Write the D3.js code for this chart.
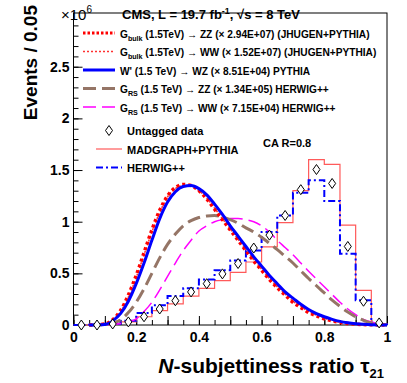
<!DOCTYPE html>
<html>
<head>
<meta charset="utf-8">
<script src="https://cdn.jsdelivr.net/npm/d3@7"></script>
<style>
  body { margin: 0; background: #fff; }
  text { font-family: "Liberation Sans", Arial, sans-serif; font-weight: bold; }
</style>
</head>
<body>
<div id="chart"></div>
<script>
// bin centres of the 0.05-wide histograms
var binCenters = [0.025, 0.075, 0.125, 0.175, 0.225, 0.275, 0.325, 0.375, 0.425, 0.475,
                  0.525, 0.575, 0.625, 0.675, 0.725, 0.775, 0.825, 0.875, 0.925, 0.975];
var dataValues = [0.0, 0.0, 0.01, 0.03, 0.08, 0.155, 0.235, 0.32, 0.40, 0.495,
                  0.595, 0.745, 0.87, 1.06, 1.31, 1.505, 1.37, 0.76, 0.23, 0.02];
var madgraphValues = [0.0, 0.002, 0.01, 0.03, 0.08, 0.14, 0.205, 0.28, 0.355, 0.43,
                      0.51, 0.61, 0.757, 0.99, 1.30, 1.60, 1.555, 0.967, 0.335, 0.01];
var herwigValues = [0.0, 0.002, 0.012, 0.04, 0.115, 0.19, 0.28, 0.355, 0.44, 0.53,
                    0.625, 0.72, 0.90, 1.06, 1.28, 1.40, 1.20, 0.69, 0.24, 0.005];

// signal shapes, read at these tau21 values
var curveX = [0.05, 0.1, 0.125, 0.15, 0.175, 0.2, 0.225, 0.25, 0.275, 0.3, 0.325, 0.35, 0.375,
              0.4, 0.425, 0.45, 0.475, 0.5, 0.525, 0.55, 0.575, 0.6, 0.625, 0.65, 0.675, 0.7,
              0.725, 0.75, 0.775, 0.8, 0.825, 0.85, 0.875, 0.9, 0.925, 0.95, 0.975, 1.0];
var gbulkZZ = [0, 0.01, 0.05, 0.14, 0.29, 0.48, 0.70, 0.92, 1.11, 1.25, 1.33, 1.36, 1.35,
               1.30, 1.22, 1.12, 1.02, 0.92, 0.82, 0.72, 0.62, 0.53, 0.44, 0.36, 0.29, 0.22,
               0.17, 0.12, 0.09, 0.06, 0.04, 0.025, 0.015, 0.008, 0.004, 0.002, 0.001, 0];
var gbulkWW = [0, 0.008, 0.045, 0.13, 0.27, 0.46, 0.68, 0.90, 1.09, 1.24, 1.32, 1.35, 1.345,
               1.30, 1.23, 1.13, 1.03, 0.93, 0.83, 0.73, 0.63, 0.54, 0.45, 0.37, 0.30, 0.23,
               0.18, 0.13, 0.095, 0.065, 0.043, 0.027, 0.016, 0.009, 0.005, 0.002, 0.001, 0];
var wprimeWZ = [0, 0.005, 0.04, 0.11, 0.23, 0.40, 0.60, 0.82, 1.03, 1.19, 1.29, 1.34, 1.35,
                1.32, 1.26, 1.17, 1.07, 0.96, 0.86, 0.76, 0.66, 0.57, 0.48, 0.40, 0.32, 0.26,
                0.20, 0.15, 0.11, 0.08, 0.055, 0.035, 0.022, 0.013, 0.007, 0.003, 0.001, 0];
var grsZZ = [0, 0.005, 0.02, 0.05, 0.12, 0.22, 0.35, 0.50, 0.65, 0.78, 0.88, 0.96, 1.01,
             1.04, 1.055, 1.06, 1.045, 1.02, 0.985, 0.94, 0.90, 0.85, 0.79, 0.73, 0.665, 0.60,
             0.525, 0.45, 0.38, 0.31, 0.24, 0.18, 0.125, 0.08, 0.045, 0.02, 0.006, 0];
var grsWW = [0, 0.0, 0.005, 0.015, 0.03, 0.06, 0.13, 0.22, 0.34, 0.47, 0.60, 0.72, 0.82,
             0.91, 0.96, 1.0, 1.02, 1.03, 1.03, 1.02, 1.0, 0.96, 0.90, 0.82, 0.75, 0.68,
             0.60, 0.52, 0.445, 0.37, 0.295, 0.22, 0.155, 0.10, 0.055, 0.03, 0.01, 0];

var xTickLabels = ["0", "0.2", "0.4", "0.6", "0.8", "1"];
var yTickLabels = ["0", "0.5", "1", "1.5", "2", "2.5"];

var width = 407, height = 383;
var svg = d3.select("#chart").append("svg")
  .attr("width", width)
  .attr("height", height);

var x = d3.scaleLinear().domain([0, 1]).range([73.5, 387]);
var y = d3.scaleLinear().domain([0, 3.02]).range([325, 13]);

// frame
svg.append("rect")
  .attr("x", x(0)).attr("y", y(3.02))
  .attr("width", x(1) - x(0)).attr("height", y(0) - y(3.02))
  .attr("fill", "none").attr("stroke", "#000").attr("stroke-width", 1);

// axes, ticks pointing inside like ROOT
var xMinor = d3.axisBottom(x).tickValues(d3.range(0, 1.0001, 0.05)).tickSize(-5).tickFormat("");
var xMajor = d3.axisBottom(x).tickValues(d3.range(0, 1.0001, 0.1)).tickSize(-9).tickFormat("");
var xLab = d3.axisBottom(x).tickValues(xTickLabels.map(Number)).tickSize(0).tickPadding(7)
  .tickFormat(function(d) { return d3.format("~g")(d); });
[xMinor, xMajor, xLab].forEach(function(ax) {
  svg.append("g").attr("transform", "translate(0," + y(0) + ")").call(ax);
});
var yMinor = d3.axisLeft(y).tickValues(d3.range(0, 2.95, 0.1)).tickSize(-5).tickFormat("");
var yMajor = d3.axisLeft(y).tickValues(yTickLabels.map(Number)).tickSize(-9).tickPadding(4)
  .tickFormat(function(d) { return d3.format("~g")(d); });
[yMinor, yMajor].forEach(function(ax) {
  svg.append("g").attr("transform", "translate(" + x(0) + ",0)").call(ax);
});
svg.selectAll(".domain").remove();
svg.selectAll(".tick line").attr("stroke", "#000");
svg.selectAll(".tick text").attr("font-size", 14).attr("fill", "#000");

// step histograms
function stepPath(values) {
  var pts = [[0, 0]];
  values.forEach(function(v, i) {
    pts.push([binCenters[i] - 0.025, v]);
    pts.push([binCenters[i] + 0.025, v]);
  });
  pts.push([1, 0]);
  return d3.line().x(function(d) { return x(d[0]); }).y(function(d) { return y(d[1]); })(pts);
}
svg.append("path").attr("d", stepPath(madgraphValues))
  .attr("fill", "none").attr("stroke", "#ff5a5a").attr("stroke-width", 1.2);
svg.append("path").attr("d", stepPath(herwigValues))
  .attr("fill", "none").attr("stroke", "#0000ff").attr("stroke-width", 2)
  .attr("stroke-dasharray", "7,3,2,3");

// signal curves
var curveLine = d3.line()
  .x(function(d, i) { return x(curveX[i]); })
  .y(function(d) { return y(d); })
  .curve(d3.curveMonotoneX);

var curves = [
  { values: grsWW, color: "#ff00ff", width: 1.5, dash: "13,6" },
  { values: grsZZ, color: "#957566", width: 3, dash: "13,6" },
  { values: gbulkWW, color: "#ff3030", width: 1.5, dash: "2,2" },
  { values: gbulkZZ, color: "#ff0000", width: 3.5, dash: "3,3" },
  { values: wprimeWZ, color: "#0000ff", width: 3, dash: null }
];
curves.forEach(function(c) {
  svg.append("path").attr("d", curveLine(c.values))
    .attr("fill", "none").attr("stroke", c.color).attr("stroke-width", c.width)
    .attr("stroke-dasharray", c.dash);
});

// data markers (open diamonds)
var diamond = "M0,-5L3.5,0L0,5L-3.5,0Z";
svg.selectAll(".pt").data(dataValues).enter().append("path")
  .attr("class", "pt")
  .attr("d", diamond)
  .attr("transform", function(d, i) { return "translate(" + x(binCenters[i]) + "," + y(d) + ")"; })
  .attr("fill", "#fff").attr("stroke", "#000").attr("stroke-width", 1);

// legend
var legend = [
  { main: "G", sub: "bulk", rest: " (1.5TeV) \u2192 ZZ (\u00d7 2.94E+07) (JHUGEN+PYTHIA)", color: "#ff0000", width: 3, dash: "2.5,2" },
  { main: "G", sub: "bulk", rest: " (1.5TeV) \u2192 WW (\u00d7 1.52E+07) (JHUGEN+PYTHIA)", color: "#ff3030", width: 1.5, dash: "2,2" },
  { main: "W' (1.5 TeV) \u2192 WZ (\u00d7 8.51E+04) PYTHIA", sub: "", rest: "", color: "#0000ff", width: 3, dash: null },
  { main: "G", sub: "RS", rest: " (1.5 TeV) \u2192 ZZ (\u00d7 1.34E+05) HERWIG++", color: "#957566", width: 3, dash: "13,6" },
  { main: "G", sub: "RS", rest: " (1.5 TeV) \u2192 WW (\u00d7 7.15E+04) HERWIG++", color: "#ff00ff", width: 1.5, dash: "13,6" }
];
var legendY = [33, 51.5, 70, 88.5, 107];
var legendTexts = [];
legend.forEach(function(e, i) {
  svg.append("line")
    .attr("x1", 83).attr("x2", 115).attr("y1", legendY[i]).attr("y2", legendY[i])
    .attr("stroke", e.color).attr("stroke-width", e.width).attr("stroke-dasharray", e.dash);
  var t = svg.append("text").attr("x", 120).attr("y", legendY[i] + 4.5).attr("font-size", 10);
  t.append("tspan").text(e.main);
  if (e.sub) {
    t.append("tspan").attr("class", "sub").attr("dy", 3).attr("font-size", 7).text(e.sub);
    t.append("tspan").attr("dy", -3).text(e.rest);
  }
  legendTexts.push(t);
});
// fit the first legend line to the width it has in the picture (x 120 -> 370)
var k = 250 / legendTexts[0].node().getComputedTextLength();
legendTexts.forEach(function(t) {
  t.attr("font-size", 10 * k);
  t.selectAll(".sub").attr("font-size", 7 * k);
});

var legend2Y = [130.5, 149, 167.5];
svg.append("path").attr("d", diamond)
  .attr("transform", "translate(109," + legend2Y[0] + ")")
  .attr("fill", "#fff").attr("stroke", "#000");
svg.append("line").attr("x1", 96).attr("x2", 122).attr("y1", legend2Y[1]).attr("y2", legend2Y[1])
  .attr("stroke", "#ff5a5a").attr("stroke-width", 1.2);
svg.append("line").attr("x1", 96).attr("x2", 122).attr("y1", legend2Y[2]).attr("y2", legend2Y[2])
  .attr("stroke", "#0000ff").attr("stroke-width", 2).attr("stroke-dasharray", "7,3,2,3");
["Untagged data", "MADGRAPH+PYTHIA", "HERWIG++"].forEach(function(s, i) {
  svg.append("text").attr("x", 127).attr("y", legend2Y[i] + 4.5).attr("font-size", 11).text(s);
});

svg.append("text").attr("x", 263).attr("y", 147).attr("font-size", 11).text("CA R=0.8");

// title and exponent
var title = svg.append("text").attr("x", 122).attr("y", 19).attr("font-size", 13);
title.append("tspan").text("CMS, L = 19.7 fb");
title.append("tspan").attr("dy", -5).attr("font-size", 9).text("-1");
title.append("tspan").attr("dy", 5).text(", \u221As = 8 TeV");

var expo = svg.append("text").attr("x", 61).attr("y", 20).attr("font-size", 15);
expo.append("tspan").attr("font-weight", "normal").text("\u00d710");
expo.append("tspan").attr("dy", -7).attr("font-size", 10).attr("font-weight", "normal").text("6");

// axis titles
svg.append("text")
  .attr("transform", "translate(37,5) rotate(-90)")
  .attr("text-anchor", "end").attr("font-size", 19)
  .text("Events / 0.05");

var xt = svg.append("text").attr("x", 384).attr("y", 373).attr("text-anchor", "end").attr("font-size", 21);
xt.append("tspan").attr("font-style", "italic").text("N");
xt.append("tspan").text("-subjettiness ratio \u03c4");
xt.append("tspan").attr("dy", 5).attr("font-size", 13).text("21");
</script>
</body>
</html>
